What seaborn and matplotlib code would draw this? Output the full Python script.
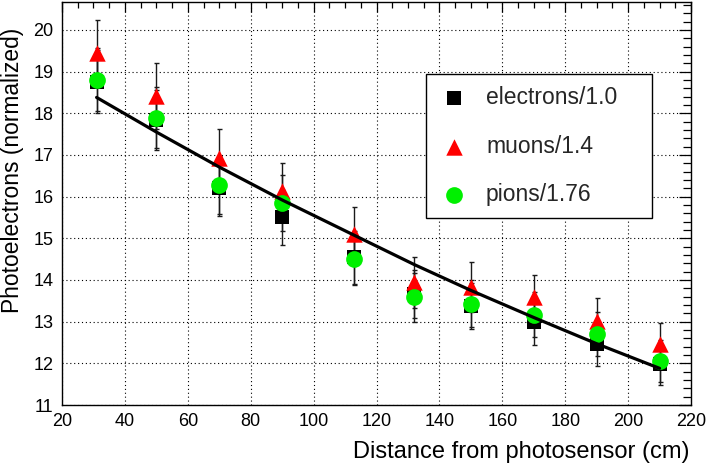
import matplotlib
matplotlib.use("Agg")
import matplotlib.pyplot as plt
from matplotlib.ticker import MultipleLocator
import seaborn as sns
import pandas as pd

# ---- data ----
distance = [31, 50, 70, 90, 113, 132, 150, 170, 190, 210]
electrons = [18.76, 17.83, 16.21, 15.51, 14.54, 13.66, 13.38, 12.98, 12.46, 11.98]
muons = [19.45, 18.42, 16.93, 16.14, 15.10, 13.94, 13.83, 13.58, 13.02, 12.46]
pions = [18.81, 17.89, 16.28, 15.84, 14.50, 13.58, 13.43, 13.16, 12.70, 12.06]
electrons_err = [0.75, 0.72, 0.68, 0.66, 0.64, 0.57, 0.55, 0.53, 0.52, 0.49]
muons_err = [0.80, 0.79, 0.70, 0.67, 0.64, 0.62, 0.60, 0.55, 0.54, 0.50]
pions_err = [0.76, 0.73, 0.69, 0.67, 0.62, 0.58, 0.56, 0.54, 0.52, 0.50]
fit_x = [31, 50, 70, 90, 113, 132, 150, 170, 190, 210]
fit_y = [18.38, 17.55, 16.71, 15.92, 15.07, 14.37, 13.75, 13.10, 12.47, 11.88]
series_labels = ["electrons/1.0", "muons/1.4", "pions/1.76"]
x_ticks = [20, 40, 60, 80, 100, 120, 140, 160, 180, 200, 220]
y_ticks = [11, 12, 13, 14, 15, 16, 17, 18, 19, 20]
x_label = "Distance from photosensor (cm)"
y_label = "Photoelectrons (normalized)"

sns.set_theme(style="white")
plt.rcParams["font.family"] = ["Liberation Sans", "DejaVu Sans"]

fig = plt.figure(figsize=(7.08, 4.66), dpi=100)
ax = fig.add_axes([62 / 708, 1 - 405 / 466, (691 - 62) / 708, (405 - 2) / 466])

styles = [
    (electrons, electrons_err, "s", "#000000", 110),
    (muons, muons_err, "^", "#ff0000", 140),
    (pions, pions_err, "o", "#00f000", 145),
]

# error bars under the markers
for vals, errs, _, _, _ in styles:
    ax.errorbar(distance, vals, yerr=errs, fmt="none", ecolor="#1a1a1a",
                elinewidth=1.0, capsize=1.8, capthick=1.0, zorder=2)

for (vals, errs, mk, col, sz), lab in zip(styles, series_labels):
    df = pd.DataFrame({"x": distance, "y": vals})
    sns.scatterplot(data=df, x="x", y="y", marker=mk, color=col, s=sz,
                    linewidth=0, ax=ax, label=lab, zorder=3)

fit_df = pd.DataFrame({"x": fit_x, "y": fit_y})
sns.lineplot(data=fit_df, x="x", y="y", color="black", linewidth=2.3,
             ax=ax, zorder=4, legend=False)

ax.set_xlim(20, 220)
ax.set_ylim(11, 20.67)
ax.set_xticks(x_ticks)
ax.set_yticks(y_ticks)
ax.xaxis.set_minor_locator(MultipleLocator(5))
ax.yaxis.set_minor_locator(MultipleLocator(0.2))

ax.grid(True, which="major", color="black", linestyle=(0, (1, 2.5)), linewidth=0.8)
ax.set_axisbelow(True)

for sp in ax.spines.values():
    sp.set_visible(True)
    sp.set_color("black")
    sp.set_linewidth(1.0)

ax.tick_params(axis="both", which="both", direction="in", top=True, right=True,
               colors="black", labelsize=13)
ax.tick_params(axis="x", which="major", length=7.5, width=0.9, pad=6)
ax.tick_params(axis="x", which="minor", length=4, width=0.9)
ax.tick_params(axis="y", which="major", length=9, width=0.9, pad=6)
ax.tick_params(axis="y", which="minor", length=6, width=0.9)
ax.tick_params(axis="x", which="both", labeltop=False)
ax.tick_params(axis="y", which="both", labelright=False)

ax.set_xlabel(x_label, fontsize=17, color="black")
ax.set_ylabel(y_label, fontsize=16.4, color="black")
ax.xaxis.set_label_coords(0.998, -0.089)
ax.xaxis.label.set_ha("right")
ax.xaxis.label.set_va("top")
ax.yaxis.set_label_coords(-0.060, 0.935)
ax.yaxis.label.set_ha("right")

leg = ax.legend(loc="upper left",
                bbox_to_anchor=((426 - 62) / 629, (405 - 78) / 403, (652 - 426) / 629, 0.01),
                mode="expand", fontsize=16.5, frameon=True, fancybox=False,
                shadow=False, framealpha=1.0, edgecolor="black", borderpad=0.52,
                labelspacing=1.12, handlelength=1.4, handletextpad=0.7,
                borderaxespad=0, scatterpoints=1)
leg.get_frame().set_linewidth(1.0)

fig.savefig("out.png", dpi=100, facecolor="white")
